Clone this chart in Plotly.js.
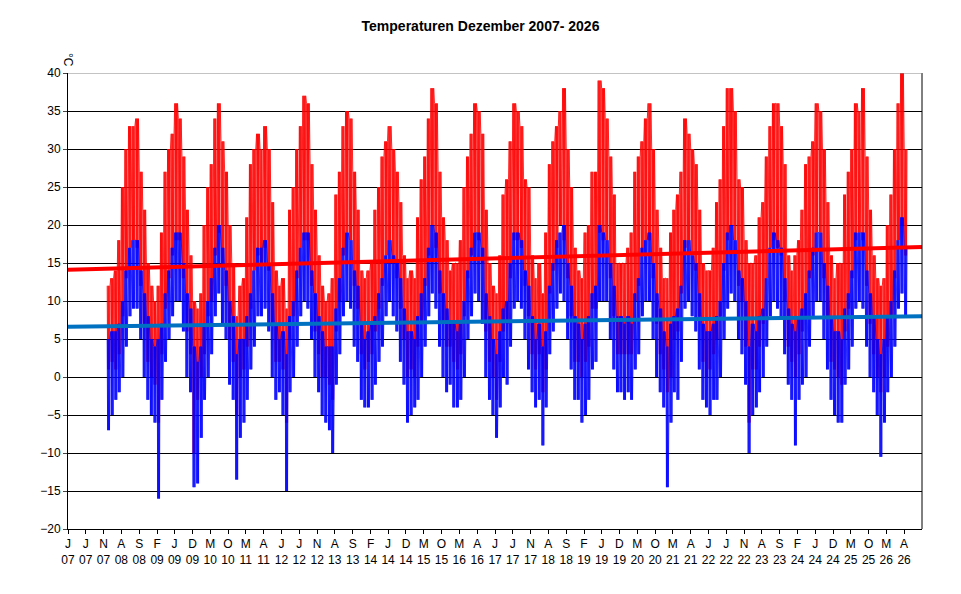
<!DOCTYPE html>
<html>
<head>
<meta charset="utf-8">
<script src="https://cdn.plot.ly/plotly-3.0.1.min.js"></script>
<style>body{margin:0;background:#fff}#chart{width:961px;height:594px}</style>
</head>
<body>
<div id="chart"></div>
<script>
// Monthly envelopes, first month Dec 2007, last Aug 2026.
const firstMonth = [2007, 11]; // year, month index (0 = Jan)

const redTop = [
  12,
  13,14,18,25,30,33,33,34,27,22,15,12,
  10,12,19,27,30,32,36,34,29,22,16,10,
  9,11,20,25,28,34,36,31,27,20,15,8,
  12,13,21,28,30,32,30,33,30,23,14,12,
  13,9,22,25,30,33,37,36,28,22,16,12,
  10,11,13,24,27,33,35,34,27,22,14,13,
  14,15,22,25,29,31,33,30,27,23,16,13,
  14,13,21,26,29,34,38,36,27,21,18,14,
  15,15,18,25,29,32,36,35,32,22,15,12,
  11,16,24,26,31,36,35,33,26,25,16,13,
  15,11,19,28,31,33,35,38,30,25,17,14,
  13,19,20,27,27,39,38,34,29,24,15,15,
  15,17,19,27,29,31,34,36,30,22,17,13,
  13,19,22,24,27,34,32,30,28,22,15,14,
  14,17,23,26,33,38,38,35,26,25,18,15,
  15,16,21,23,29,33,36,36,33,28,16,14,
  16,18,22,28,29,31,36,35,30,23,16,13,
  15,15,24,27,30,36,35,38,29,22,16,13,
  12,13,20,24,30,36,40,30
];
const redLow = [
  1,
  2,1,3,8,13,17,18,17,12,7,2,0,
  -1,-6,3,9,13,16,18,18,13,6,3,-10,
  -3,0,3,8,10,16,19,15,12,5,2,-5,
  0,1,4,9,14,16,15,17,14,7,2,2,
  1,-6,5,8,13,17,18,18,12,6,3,0,
  0,-1,-3,6,10,16,19,18,12,9,3,1,
  2,3,6,9,12,16,18,15,13,9,5,0,
  1,0,4,7,12,16,20,17,11,7,4,4,
  2,1,3,8,13,16,19,18,15,6,2,0,
  -3,2,6,7,13,18,18,17,12,8,3,1,
  3,-2,1,11,14,17,20,18,13,8,2,2,
  0,2,4,9,9,19,18,18,13,8,3,3,
  3,3,3,10,12,16,18,18,13,7,3,1,
  -2,0,5,6,11,17,18,16,14,8,2,0,
  1,3,5,8,14,18,20,18,12,10,4,-6,
  1,1,4,7,13,17,18,17,16,10,4,2,
  0,3,6,8,13,16,19,19,13,8,2,1,
  0,-1,6,9,13,18,19,18,12,7,3,0,
  -2,0,4,8,13,18,20,16
];
const blueTop = [
  5,
  6,6,7,10,14,17,18,18,14,11,8,5,
  4,5,7,11,14,17,19,19,15,11,9,4,
  2,4,7,10,13,17,20,17,14,10,8,3,
  5,5,8,11,14,17,17,18,15,11,7,5,
  6,3,8,10,14,17,19,19,14,11,8,6,
  4,4,4,9,13,17,19,18,14,12,7,5,
  6,7,8,11,13,16,18,16,15,13,9,6,
  6,5,8,11,13,17,20,19,14,11,9,7,
  7,6,7,10,14,17,19,19,17,11,8,5,
  3,6,9,10,15,19,19,18,14,12,8,5,
  7,4,6,12,15,18,19,20,15,12,8,7,
  5,7,8,11,12,20,19,18,15,12,8,8,
  7,8,7,11,13,17,18,19,15,11,9,6,
  4,7,8,9,12,18,18,16,15,11,7,6,
  6,7,8,10,15,19,20,18,14,13,10,4,
  7,6,8,9,13,17,19,18,17,13,9,7,
  6,8,9,11,14,17,19,19,15,12,8,6,
  6,5,9,11,14,19,19,19,14,11,8,5,
  3,5,8,10,14,18,21,17
];
const blueLow = [
  -7,
  -5,-3,-2,0,4,8,9,9,5,0,-3,-5,
  -6,-16,-3,2,5,8,10,10,6,0,-2,-14.5,
  -14,-8,-3,0,3,8,11,7,5,-1,-3,-13.5,
  -8,-6,-3,1,4,8,8,9,6,0,-3,-2,
  -5,-15,-2,0,4,8,10,9,5,0,-2,-5,
  -6,-7,-10,-1,3,8,10,9,4,2,-3,-4,
  -4,-3,-1,2,4,8,10,8,6,2,-1,-6,
  -5,-4,-3,0,4,8,11,9,4,0,-2,-1,
  -4,-4,-3,0,5,8,11,10,7,0,-3,-5,
  -8,-4,0,-1,4,9,10,9,5,1,-2,-4,
  -3,-9,-4,3,6,9,11,10,5,1,-3,-3,
  -6,-5,-3,1,2,10,10,10,5,1,-2,-2,
  -3,-2,-3,1,3,8,10,10,5,0,-2,-4,
  -14.5,-6,-2,-3,2,9,10,8,6,1,-3,-4,
  -5,-3,-3,0,5,9,11,10,5,3,-1,-10,
  -5,-4,-2,0,4,8,10,9,8,3,-1,-3,
  -9,-3,-1,0,4,8,10,10,5,1,-3,-5,
  -6,-6,-1,1,4,9,10,9,4,0,-2,-5,
  -10.5,-6,-2,0,4,9,11,8
];

// linear trends (start of axis, end of axis)
const trendDates = ['2007-01-01', '2027-01-01'];
const redTrend = [14.1, 17.1];
const blueTrend = [6.6, 8.0];

const tickLetters = ['J','F','M','A','M','J','J','A','S','O','N','D'];

function pad(n) { return String(n).padStart(2, '0'); }

// each month drawn as a zigzag between its top and bottom value
const zigDays = [2, 6, 10, 14, 18, 22, 26];
function zigzag(top, low) {
    const x = [], y = [];
    let yr = firstMonth[0], mo = firstMonth[1];
    top.forEach((t, i) => {
        zigDays.forEach((d, k) => {
            x.push(`${yr}-${pad(mo + 1)}-${pad(d)}`);
            y.push(k % 2 === 0 ? t : low[i]);
        });
        mo++;
        if (mo > 11) { mo = 0; yr++; }
    });
    return { x, y };
}

const red = zigzag(redTop, redLow);
const blue = zigzag(blueTop, blueLow);

const tickvals = [], ticktext = [];
for (let m = 0; m <= 235; m += 5) {
    const yr = 2007 + Math.floor(m / 12), mo = m % 12;
    tickvals.push(`${yr}-${pad(mo + 1)}-01`);
    ticktext.push(`${tickLetters[mo]}<br>${pad(yr % 100)}`);
}

const traces = [
    { x: red.x, y: red.y, type: 'scatter', mode: 'lines', line: { color: '#ff0000', width: 0.8 } },
    { x: blue.x, y: blue.y, type: 'scatter', mode: 'lines', line: { color: '#0000ff', width: 0.8 } },
    { x: trendDates, y: redTrend, type: 'scatter', mode: 'lines', line: { color: '#ff0000', width: 4 } },
    { x: trendDates, y: blueTrend, type: 'scatter', mode: 'lines', line: { color: '#0070c0', width: 4 } },
];

const layout = {
    width: 961, height: 594,
    paper_bgcolor: '#fff', plot_bgcolor: '#fff',
    font: { family: 'Liberation Sans, Arial, sans-serif', size: 12, color: '#000' },
    margin: { l: 68, r: 39, t: 73, b: 65 },
    showlegend: false,
    title: { text: '<b>Temperaturen Dezember 2007- 2026</b>', x: 0.5, xanchor: 'center', y: 0.965, font: { size: 14 } },
    xaxis: {
        type: 'date', range: ['2007-01-01', '2027-01-01'],
        tickvals, ticktext, tickangle: 0, showgrid: false,
        showline: true, linecolor: '#000', linewidth: 1, mirror: false,
        ticks: 'outside', ticklen: 4, tickcolor: '#000', tickfont: { size: 12 }
    },
    yaxis: {
        range: [-20, 40], dtick: 5, showgrid: true, gridcolor: '#000', gridwidth: 1,
        zeroline: false, showline: true, linecolor: '#000', ticks: 'outside', ticklen: 4,
        tickfont: { size: 12 }
    },
    shapes: [
        { type: 'line', xref: 'paper', yref: 'paper', x0: 1, x1: 1, y0: 0, y1: 1, line: { color: '#000', width: 1 } },
        { type: 'line', xref: 'paper', yref: 'y', x0: 0, x1: 1, y0: 40, y1: 40, line: { color: '#888', width: 1 } }
    ],
    annotations: [
        { text: '°C', xref: 'paper', yref: 'paper', x: 0, y: 1, xanchor: 'center', yanchor: 'bottom',
          xshift: 0, yshift: 4, textangle: 90, showarrow: false, font: { size: 12 } }
    ]
};

Plotly.newPlot('chart', traces, layout, { displayModeBar: false, staticPlot: true });
</script>
</body>
</html>
